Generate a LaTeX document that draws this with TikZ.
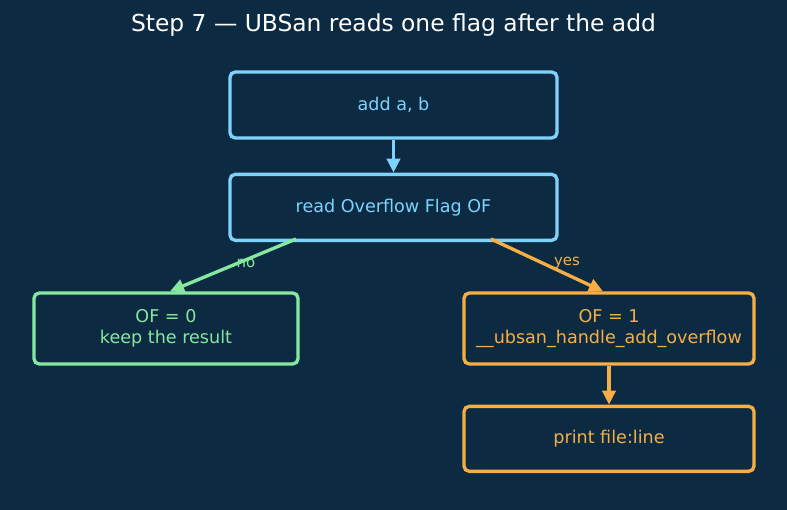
\documentclass[tikz,border=0pt]{standalone}
\usepackage{fontspec}
\setmainfont{DejaVu Sans}
\usetikzlibrary{arrows.meta, positioning, calc}
\definecolor{bgNavy}{HTML}{0C2A42}
\definecolor{flagBlue}{HTML}{7DD3FC}
\definecolor{okGreen}{HTML}{86E8A0}
\definecolor{warnOrange}{HTML}{F7AF45}

\begin{document}
\begin{tikzpicture}[
    stepbox/.style={rectangle, rounded corners=3pt, draw, line width=1.9pt,
                    align=center, inner sep=2pt,
                    font=\fontsize{10}{12}\selectfont},
    flow/.style={-{Triangle[length=8pt, width=7.5pt]}, line width=1.9pt},
    lbl/.style={font=\fontsize{8.5}{10}\selectfont},
  ]
    \fill[bgNavy] (0,0) rectangle (15.74,-10.2);
    \node[white, font=\fontsize{13.3}{15}\selectfont] (title) at (7.87,-0.50)
      {Step 7 — UBSan reads one flag after the add};

    \node[stepbox, flagBlue, minimum width=6.54cm, minimum height=1.32cm]
      (add) at (7.87,-2.10) {add a, b};
    \node[stepbox, flagBlue, minimum width=6.54cm, minimum height=1.32cm,
          below=0.66cm of add] (read) {read Overflow Flag OF};
    \node[stepbox, okGreen, minimum width=5.28cm, minimum height=1.42cm]
      (keep) at (3.32,-6.57) {OF = 0\\keep the result};
    \node[stepbox, warnOrange, minimum width=5.80cm, minimum height=1.42cm]
      (trap) at (12.18,-6.57) {OF = 1\\\_\_ubsan\_handle\_add\_overflow};
    \node[stepbox, warnOrange, minimum width=5.80cm, minimum height=1.30cm,
          below=0.78cm of trap] (print) {print file:line};

    \draw[flow, flagBlue] (add.south) -- (read.north);
    \draw[flow, okGreen] ([xshift=-1.95cm, yshift=0.06cm]read.south)
      -- node[lbl, xshift=0.26cm, yshift=0.04cm] {no} ([xshift=0.08cm]keep.north);
    \draw[flow, warnOrange] ([xshift=1.95cm, yshift=0.06cm]read.south)
      -- node[lbl, xshift=0.40cm, yshift=0.04cm] {yes} ([xshift=-0.12cm]trap.north);
    \draw[flow, warnOrange] (trap.south) -- (print.north);
  \end{tikzpicture}
\end{document}
